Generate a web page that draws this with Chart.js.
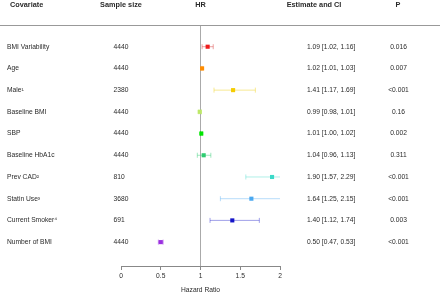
<!DOCTYPE html>
<html>
<head>
<meta charset="utf-8">
<script src="https://cdn.jsdelivr.net/npm/chart.js@4"></script>
<style>
html,body{margin:0;padding:0;background:#fff;}
#wrap{width:440px;height:294px;position:relative;}
</style>
</head>
<body>
<div id="wrap"><canvas id="c" width="440" height="294"></canvas></div>
<script>
const covariates = ["BMI Variability","Age","Male\u00b9","Baseline BMI","SBP","Baseline HbA1c","Prev CAD\u00b2","Statin Use\u00b3","Current Smoker\u2074","Number of BMI"];
const sampleSizes = [4440,4440,2380,4440,4440,4440,810,3680,691,4440];
const estimates = [1.09,1.02,1.41,0.99,1.01,1.04,1.90,1.64,1.40,0.50];
const lowerCI = [1.02,1.01,1.17,0.98,1.00,0.96,1.57,1.25,1.12,0.47];
const upperCI = [1.16,1.03,1.69,1.01,1.02,1.13,2.29,2.15,1.74,0.53];
const pValues = ["0.016","0.007","<0.001","0.16","0.002","0.311","<0.001","<0.001","0.003","<0.001"];
const xTicks = [0,0.5,1,1.5,2];
const xTickLabels = ["0","0.5","1","1.5","2"];
const refValue = 1;
const headers = ["Covariate","Sample size","HR","Estimate and CI","P"];

const pointColors = ["#ee1c1c","#ff8c00","#f5cc00","#bde868","#00e600","#2ecc71","#3cd9c8","#4aa8f0","#1414c8","#9b30e0"];
const ciColors = ["rgba(220,70,70,0.5)","rgba(255,140,0,0.5)","rgba(240,215,60,0.55)","rgba(189,232,104,0.6)","rgba(0,200,0,0.5)","rgba(46,204,113,0.45)","rgba(60,217,200,0.4)","rgba(74,168,240,0.4)","rgba(20,20,200,0.4)","rgba(155,48,224,0.5)"];

const FONT = "'Liberation Sans', Arial, sans-serif";
const TXT = "#2a2a2a";

const datasets = [];
datasets.push({
  type:'scatter',
  data: estimates.map((v,i)=>({x:v,y:i})),
  pointStyle:'rect',
  pointRadius:2.9,
  pointBackgroundColor: pointColors,
  pointBorderWidth:0,
  pointBorderColor: pointColors
});
estimates.forEach((v,i)=>{
  datasets.push({
    type:'line',
    data:[{x:lowerCI[i],y:i},{x:upperCI[i],y:i}],
    borderColor: ciColors[i],
    borderWidth:1,
    pointStyle:'line',
    pointRotation:90,
    pointRadius:2.5,
    pointBorderColor: ciColors[i],
    pointBorderWidth:1,
    fill:false
  });
});
datasets.push({
  type:'line',
  data:[{x:refValue,y:-1},{x:refValue,y:10.1}],
  borderColor:'#aaaaaa',
  borderWidth:1,
  pointRadius:0,
  fill:false
});

const tablePlugin = {
  id:'table',
  afterDraw(chart){
    const ctx = chart.ctx;
    const ys = chart.scales.y;
    const top = chart.chartArea.top;
    ctx.save();
    ctx.strokeStyle = '#999';
    ctx.lineWidth = 1;
    ctx.beginPath();
    ctx.moveTo(0, top+0.5);
    ctx.lineTo(440, top+0.5);
    ctx.stroke();
    ctx.fillStyle = TXT;
    ctx.textBaseline = 'middle';
    ctx.font = "bold 7.3px " + FONT;
    ctx.textAlign = 'left';
    ctx.fillText(headers[0], 10, 5);
    ctx.textAlign = 'center';
    ctx.fillText(headers[1], 121, 5);
    ctx.fillText(headers[2], chart.scales.x.getPixelForValue(refValue), 5);
    ctx.fillText(headers[3], 314, 5);
    ctx.fillText(headers[4], 398, 5);
    ctx.font = "6.7px " + FONT;
    covariates.forEach((c,i)=>{
      const y = ys.getPixelForValue(i);
      ctx.textAlign = 'left';
      ctx.fillText(c, 7, y);
      ctx.fillText(String(sampleSizes[i]), 113.5, y);
      ctx.fillText(estimates[i].toFixed(2)+" ["+lowerCI[i].toFixed(2)+", "+upperCI[i].toFixed(2)+"]", 307, y);
      ctx.textAlign = 'center';
      ctx.fillText(pValues[i], 398.5, y);
    });
    ctx.restore();
  }
};

new Chart(document.getElementById('c'), {
  data:{datasets},
  options:{
    responsive:false,
    animation:false,
    layout:{padding:{left:121,right:160,top:25,bottom:0}},
    plugins:{legend:{display:false},tooltip:{enabled:false}},
    scales:{
      x:{
        type:'linear',
        min:0,max:2,
        afterBuildTicks(scale){ scale.ticks = xTicks.map(v=>({value:v})); },
        afterFit(scale){ scale.height = 28; },
        ticks:{font:{size:6.7,family:FONT},color:TXT,padding:2,maxRotation:0,
          callback:(v,i)=>xTickLabels[i]},
        grid:{display:true,drawOnChartArea:false,drawTicks:true,tickLength:4,color:'#888'},
        border:{display:true,color:'#888'},
        title:{display:true,text:'Hazard Ratio',font:{size:6.7,family:FONT},color:TXT,padding:{top:0,bottom:0}}
      },
      y:{
        type:'linear',
        display:false,
        reverse:true,
        min:-1,max:10.1
      }
    }
  },
  plugins:[tablePlugin]
});
</script>
</body>
</html>
